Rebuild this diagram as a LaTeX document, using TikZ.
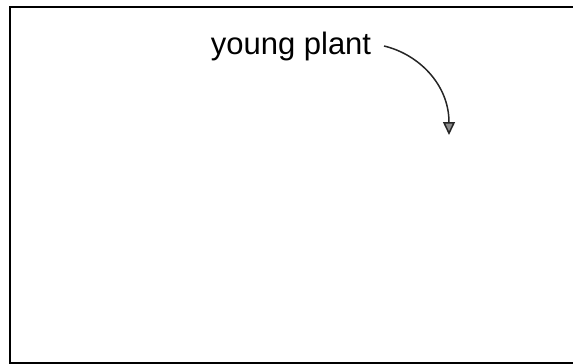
\documentclass[tikz,border=0pt]{standalone}
\usepackage{fontspec}
\setmainfont{Liberation Sans}
\usetikzlibrary{arrows.meta}
\begin{document}
\begin{tikzpicture}[x=1pt,y=-1pt,
  frame/.style={draw=black,line width=2.6pt},
  lbl/.style={font=\fontsize{31}{36}\selectfont,inner sep=0pt,anchor=base},
  pointer/.style={draw=black!85,line width=1.5pt,-{Triangle[length=13pt,width=12pt,fill=black!45]}}]
\useasboundingbox (0,0) rectangle (573,364);
\draw[frame] (10,7) rectangle (580,363);
\node[lbl] (label) at (291,54) {young plant};
\coordinate (start) at (384,46);
\coordinate (tip) at (449,135);
\draw[pointer] (start) .. controls (418,54) and (449,84) .. (tip);
\end{tikzpicture}
\end{document}
